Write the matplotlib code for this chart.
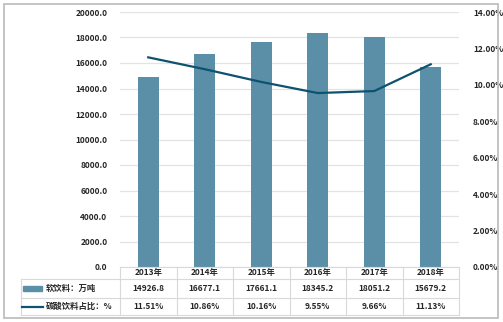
import matplotlib
matplotlib.use("Agg")
import matplotlib.pyplot as plt
import matplotlib.transforms as mtransforms
from matplotlib.patches import Rectangle
from matplotlib.lines import Line2D

plt.rcParams["font.family"] = ["Noto Sans CJK SC", "DejaVu Sans"]

# data
years = ["2013年", "2014年", "2015年", "2016年", "2017年", "2018年"]
soft_drink = [14926.8, 16677.1, 17661.1, 18345.2, 18051.2, 15679.2]
carbonated_share = [11.51, 10.86, 10.16, 9.55, 9.66, 11.13]
left_ticks = [0, 2000, 4000, 6000, 8000, 10000, 12000, 14000, 16000, 18000, 20000]
right_ticks = [0, 2, 4, 6, 8, 10, 12, 14]

BAR_COLOR = "#5B8FA8"
LINE_COLOR = "#0D5270"
GRID_COLOR = "#E3E3E3"
TXT_COLOR = "#262626"
FS = 6

W, H = 503, 322
fig = plt.figure(figsize=(W / 100, H / 100), dpi=100)

# outer frame
fig.patches.append(Rectangle((4 / W, 4 / H), 494 / W, 314 / H,
                             transform=fig.transFigure, fill=False,
                             edgecolor="#BFBFBF", linewidth=1.3))

ax = fig.add_axes([120 / W, 55 / H, 339 / W, 255 / H])
x = list(range(len(years)))

ax.bar(x, soft_drink, width=0.38, color=BAR_COLOR, zorder=2)
ax.set_xlim(-0.5, len(years) - 0.5)
ax.set_ylim(0, 20000)
ax.set_yticks(left_ticks)
ax.set_yticklabels([f"{v:.1f}" for v in left_ticks], fontsize=FS,
                   color=TXT_COLOR, fontweight="bold")
ax.tick_params(axis="y", length=0, pad=9)
ax.set_xticks([])
ax.grid(axis="y", color=GRID_COLOR, linewidth=0.9, zorder=0)
for s in ax.spines.values():
    s.set_visible(False)

ax2 = ax.twinx()
ax2.plot(x, carbonated_share, color=LINE_COLOR, linewidth=1.6, zorder=3)
ax2.set_ylim(0, 14)
ax2.set_yticks(right_ticks)
ax2.set_yticklabels([f"{v:.2f}%" for v in right_ticks], fontsize=FS,
                    color=TXT_COLOR, fontweight="bold")
ax2.tick_params(axis="y", length=0, pad=10)
for s in ax2.spines.values():
    s.set_visible(False)

# data table under the chart
trans = mtransforms.blended_transform_factory(ax.transData, ax.transAxes)
rows_y = [0, -12 / 255, -31 / 255, -48 / 255]
label_x = -99 / 339
tc = "#D9D9D9"

for i in range(len(years) + 1):
    ax.add_line(Line2D([i - 0.5, i - 0.5], [rows_y[0], rows_y[3]],
                       transform=trans, color=tc, linewidth=0.8, clip_on=False))
ax.add_line(Line2D([-0.5, len(years) - 0.5], [0, 0], transform=trans,
                   color=tc, linewidth=0.8, clip_on=False))
for yy in rows_y[1:]:
    ax.add_line(Line2D([label_x, 1], [yy, yy], transform=ax.transAxes,
                       color=tc, linewidth=0.8, clip_on=False))
ax.add_line(Line2D([label_x, label_x], [rows_y[1], rows_y[3]],
                   transform=ax.transAxes, color=tc, linewidth=0.8,
                   clip_on=False))

row_vals = [
    years,
    [f"{v:.1f}" for v in soft_drink],
    [f"{v:.2f}%" for v in carbonated_share],
]
for r, vals in enumerate(row_vals):
    yc = (rows_y[r] + rows_y[r + 1]) / 2
    for i, v in enumerate(vals):
        ax.text(i, yc, v, transform=trans, ha="center", va="center",
                fontsize=FS, color=TXT_COLOR, fontweight="bold")

# legend keys in the row headers
yc1 = (rows_y[1] + rows_y[2]) / 2
yc2 = (rows_y[2] + rows_y[3]) / 2
ax.add_patch(Rectangle((-97 / 339, yc1 - 2.2 / 255), 19 / 339, 4.4 / 255,
                       transform=ax.transAxes, color=BAR_COLOR, clip_on=False))
ax.add_line(Line2D([-98 / 339, -77 / 339], [yc2, yc2], transform=ax.transAxes,
                   color=LINE_COLOR, linewidth=1.6, clip_on=False))
ax.text(-74 / 339, yc1, "软饮料：万吨", transform=ax.transAxes, ha="left",
        va="center", fontsize=FS, color=TXT_COLOR, fontweight="bold")
ax.text(-74 / 339, yc2, "碳酸饮料占比：%", transform=ax.transAxes, ha="left",
        va="center", fontsize=FS, color=TXT_COLOR, fontweight="bold")

fig.savefig("out.png", dpi=100)
